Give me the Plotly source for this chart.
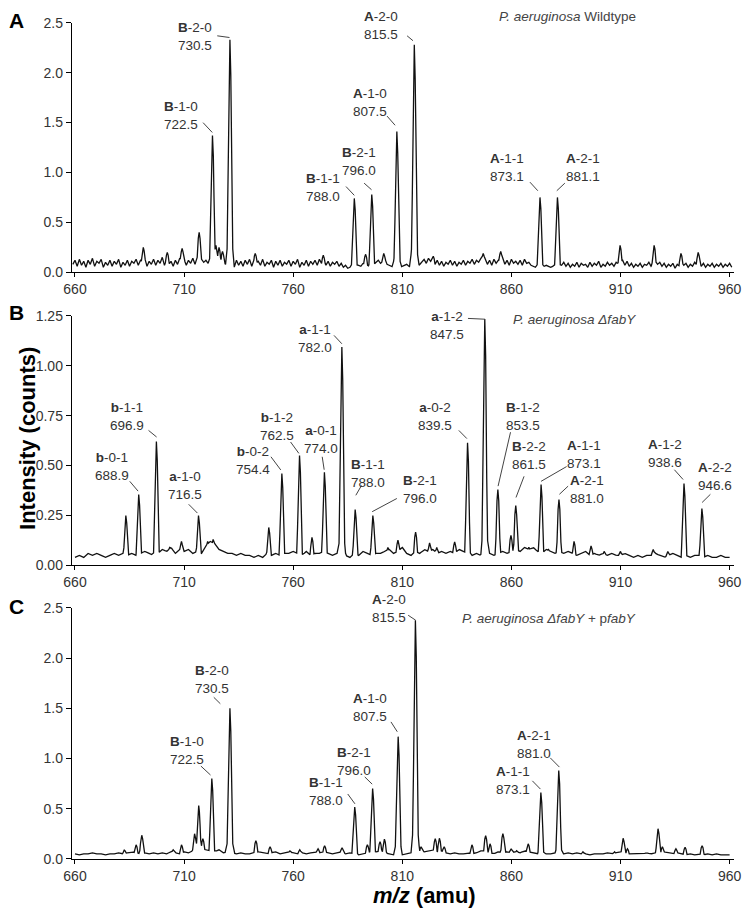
import numpy as np
import plotly.graph_objects as go

# ---------------- data ----------------
X_TICKS = [660, 710, 760, 810, 860, 910, 960]

# Panel A: P. aeruginosa wildtype
A_PEAK_MZ = [691.3, 702.3, 709.1, 716.9, 723.0, 724.6, 726.0, 727.6, 731.0, 742.6, 773.8,
             788.0, 793.2, 796.0, 801.5, 807.5, 815.5, 824.2, 847.1, 855.1, 873.1, 881.1,
             909.8, 925.4, 937.7, 945.6]
A_PEAK_INT = [0.25, 0.20, 0.24, 0.40, 1.37, 0.27, 0.25, 0.21, 2.33, 0.19, 0.17,
              0.74, 0.18, 0.78, 0.19, 1.41, 2.28, 0.16, 0.19, 0.21, 0.75, 0.75,
              0.27, 0.27, 0.19, 0.20]
A_BASE_MZ = list(range(659, 962))
A_BASE_INT = [
    0.08, 0.12, 0.06, 0.13, 0.07, 0.11, 0.05, 0.12, 0.08, 0.14,
    0.06, 0.11, 0.09, 0.13, 0.05, 0.10, 0.07, 0.12, 0.06, 0.11,
    0.08, 0.13, 0.05, 0.10, 0.07, 0.12, 0.06, 0.11, 0.09, 0.13,
    0.07, 0.12, 0.10, 0.14, 0.06, 0.11, 0.08, 0.13, 0.07, 0.12,
    0.09, 0.15, 0.07, 0.13, 0.08, 0.11, 0.06, 0.12, 0.08, 0.14,
    0.10, 0.13, 0.07, 0.12, 0.09, 0.14, 0.08, 0.15, 0.12, 0.13,
    0.10, 0.12, 0.09, 0.14, 0.10, 0.18, 0.14, 0.20, 0.12, 0.10,
    0.08, 0.09, 0.10, 0.07, 0.05, 0.12, 0.07, 0.11, 0.06, 0.12,
    0.08, 0.13, 0.06, 0.12, 0.09, 0.11, 0.07, 0.13, 0.06, 0.10,
    0.08, 0.12, 0.05, 0.11, 0.07, 0.12, 0.06, 0.10, 0.08, 0.12,
    0.06, 0.11, 0.08, 0.13, 0.05, 0.10, 0.07, 0.12, 0.06, 0.11,
    0.08, 0.12, 0.07, 0.13, 0.09, 0.12, 0.07, 0.11, 0.06, 0.10,
    0.08, 0.11, 0.06, 0.09, 0.05, 0.07, 0.04, 0.05, 0.06, 0.05,
    0.05, 0.07, 0.06, 0.09, 0.08, 0.07, 0.06, 0.07, 0.08, 0.10,
    0.12, 0.09, 0.11, 0.14, 0.08, 0.07, 0.06, 0.05, 0.06, 0.05,
    0.05, 0.06, 0.07, 0.08, 0.06, 0.05, 0.06, 0.07, 0.05, 0.08,
    0.10, 0.13, 0.09, 0.14, 0.11, 0.15, 0.08, 0.12, 0.07, 0.11,
    0.06, 0.10, 0.08, 0.12, 0.07, 0.11, 0.06, 0.10, 0.08, 0.12,
    0.07, 0.11, 0.09, 0.13, 0.08, 0.12, 0.10, 0.14, 0.11, 0.13,
    0.08, 0.12, 0.07, 0.13, 0.09, 0.12, 0.10, 0.14, 0.08, 0.12,
    0.07, 0.13, 0.09, 0.11, 0.08, 0.12, 0.07, 0.13, 0.09, 0.10,
    0.07, 0.06, 0.05, 0.06, 0.07, 0.05, 0.06, 0.07, 0.06, 0.05,
    0.06, 0.07, 0.06, 0.05, 0.07, 0.10, 0.06, 0.09, 0.05, 0.08,
    0.06, 0.10, 0.05, 0.09, 0.07, 0.08, 0.05, 0.10, 0.06, 0.09,
    0.07, 0.11, 0.05, 0.08, 0.06, 0.10, 0.07, 0.09, 0.06, 0.10,
    0.08, 0.10, 0.12, 0.07, 0.11, 0.06, 0.09, 0.05, 0.08, 0.06,
    0.09, 0.05, 0.08, 0.07, 0.10, 0.06, 0.09, 0.11, 0.08, 0.10,
    0.06, 0.09, 0.05, 0.08, 0.06, 0.09, 0.04, 0.08, 0.06, 0.10,
    0.07, 0.09, 0.05, 0.08, 0.06, 0.10, 0.07, 0.11, 0.06, 0.09,
    0.05, 0.08, 0.06, 0.09, 0.05, 0.08, 0.06, 0.09, 0.05, 0.08,
    0.06, 0.09, 0.05,
]

# Panel B: P. aeruginosa delta fabY
B_PEAK_MZ = [683.3, 689.2, 697.3, 703.4, 708.8, 716.6, 720.8, 723.3, 748.8, 754.8,
             762.9, 768.6, 774.3, 782.3, 788.4, 796.5, 803.4, 808.0, 816.1, 822.5,
             825.8, 834.0, 839.9, 847.8, 853.8, 859.8, 862.0, 868.0, 873.6, 877.0,
             881.8, 888.7, 896.5, 902.5, 910.0, 925.0, 931.7, 939.1, 947.3]
B_PEAK_INT = [0.25, 0.355, 0.62, 0.09, 0.12, 0.25, 0.12, 0.13, 0.19, 0.46,
              0.55, 0.14, 0.466, 1.094, 0.28, 0.25, 0.09, 0.126, 0.167, 0.113,
              0.09, 0.118, 0.614, 1.234, 0.38, 0.15, 0.30, 0.09, 0.405, 0.08,
              0.33, 0.12, 0.097, 0.07, 0.07, 0.08, 0.07, 0.41, 0.285]
B_BASE_MZ = list(range(660, 961, 2))
B_BASE_INT = [
    0.04, 0.05, 0.04, 0.06, 0.05, 0.06, 0.05, 0.04, 0.05, 0.06,
    0.05, 0.06, 0.05, 0.06, 0.05, 0.06, 0.07, 0.06, 0.05, 0.06,
    0.08, 0.07, 0.09, 0.06, 0.08, 0.07, 0.08, 0.06, 0.07, 0.06,
    0.10, 0.12, 0.11, 0.08, 0.07, 0.06, 0.06, 0.05, 0.06, 0.05,
    0.05, 0.04, 0.05, 0.04, 0.06, 0.05, 0.06, 0.05, 0.06, 0.06,
    0.07, 0.06, 0.05, 0.07, 0.05, 0.06, 0.06, 0.07, 0.06, 0.05,
    0.06, 0.07, 0.05, 0.04, 0.06, 0.05, 0.07, 0.06, 0.05, 0.06,
    0.06, 0.07, 0.08, 0.06, 0.07, 0.09, 0.06, 0.05, 0.07, 0.06,
    0.08, 0.07, 0.08, 0.06, 0.07, 0.06, 0.07, 0.06, 0.08, 0.07,
    0.06, 0.05, 0.06, 0.05, 0.07, 0.06, 0.05, 0.06, 0.07, 0.06,
    0.07, 0.08, 0.07, 0.09, 0.08, 0.09, 0.07, 0.06, 0.08, 0.07,
    0.06, 0.07, 0.06, 0.07, 0.06, 0.05, 0.06, 0.07, 0.05, 0.06,
    0.05, 0.06, 0.05, 0.06, 0.05, 0.05, 0.06, 0.05, 0.04, 0.05,
    0.04, 0.05, 0.05, 0.06, 0.05, 0.04, 0.05, 0.06, 0.05, 0.04,
    0.05, 0.04, 0.05, 0.05, 0.04, 0.05, 0.04, 0.04, 0.05, 0.04,
    0.04,
]

# Panel C: P. aeruginosa delta fabY + pfabY
C_PEAK_MZ = [682.6, 688.0, 690.6, 705.0, 708.8, 714.8, 716.7, 718.6, 722.7, 731.0,
             742.9, 749.4, 758.5, 763.0, 771.4, 774.4, 782.4, 788.2, 794.0, 796.4,
             799.8, 801.8, 808.1, 816.0, 818.6, 825.1, 827.0, 829.2, 841.9, 848.2,
             850.2, 856.1, 859.9, 862.4, 867.7, 873.5, 881.7, 892.8, 907.3, 911.2,
             913.2, 922.0, 927.2, 929.2, 935.4, 939.6, 947.4]
C_PEAK_INT = [0.09, 0.14, 0.235, 0.09, 0.14, 0.25, 0.53, 0.20, 0.80, 1.50,
              0.18, 0.12, 0.08, 0.09, 0.10, 0.13, 0.11, 0.516, 0.14, 0.70,
              0.17, 0.196, 1.217, 2.376, 0.12, 0.20, 0.205, 0.12, 0.14, 0.23,
              0.15, 0.25, 0.10, 0.08, 0.15, 0.66, 0.88, 0.07, 0.07, 0.205,
              0.10, 0.06, 0.30, 0.12, 0.10, 0.114, 0.13]
C_BASE_MZ = list(range(660, 961, 2))
C_BASE_INT = [
    0.05, 0.04, 0.05, 0.05, 0.06, 0.05, 0.05, 0.04, 0.05, 0.05,
    0.06, 0.05, 0.06, 0.07, 0.06, 0.05, 0.06, 0.05, 0.06, 0.05,
    0.06, 0.05, 0.07, 0.06, 0.05, 0.07, 0.06, 0.08, 0.09, 0.10,
    0.09, 0.08, 0.07, 0.09, 0.06, 0.07, 0.06, 0.05, 0.06, 0.05,
    0.05, 0.06, 0.07, 0.06, 0.05, 0.06, 0.07, 0.05, 0.06, 0.07,
    0.06, 0.05, 0.06, 0.05, 0.06, 0.07, 0.06, 0.07, 0.06, 0.05,
    0.06, 0.07, 0.05, 0.06, 0.05, 0.04, 0.05, 0.06, 0.08, 0.07,
    0.08, 0.06, 0.05, 0.04, 0.05, 0.04, 0.05, 0.06, 0.05, 0.08,
    0.07, 0.08, 0.09, 0.07, 0.08, 0.06, 0.05, 0.06, 0.05, 0.05,
    0.06, 0.05, 0.06, 0.08, 0.07, 0.06, 0.05, 0.07, 0.06, 0.07,
    0.06, 0.07, 0.06, 0.08, 0.07, 0.06, 0.05, 0.06, 0.05, 0.05,
    0.06, 0.05, 0.05, 0.06, 0.05, 0.06, 0.05, 0.05, 0.04, 0.05,
    0.05, 0.05, 0.06, 0.05, 0.06, 0.07, 0.06, 0.05, 0.05, 0.05,
    0.05, 0.06, 0.05, 0.06, 0.05, 0.07, 0.06, 0.05, 0.06, 0.05,
    0.04, 0.05, 0.04, 0.05, 0.04, 0.05, 0.04, 0.05, 0.04, 0.04,
    0.04,
]

# peak labels: (species letter, rest, m/z text)
A_LABEL_TEXT = [("B", "-2-0", "730.5"), ("B", "-1-0", "722.5"), ("B", "-1-1", "788.0"),
                ("B", "-2-1", "796.0"), ("A", "-1-0", "807.5"), ("A", "-2-0", "815.5"),
                ("A", "-1-1", "873.1"), ("A", "-2-1", "881.1")]
B_LABEL_TEXT = [("b", "-0-1", "688.9"), ("b", "-1-1", "696.9"), ("a", "-1-0", "716.5"),
                ("b", "-0-2", "754.4"), ("b", "-1-2", "762.5"), ("a", "-0-1", "774.0"),
                ("a", "-1-1", "782.0"), ("B", "-1-1", "788.0"), ("B", "-2-1", "796.0"),
                ("a", "-0-2", "839.5"), ("a", "-1-2", "847.5"), ("B", "-1-2", "853.5"),
                ("B", "-2-2", "861.5"), ("A", "-1-1", "873.1"), ("A", "-2-1", "881.0"),
                ("A", "-1-2", "938.6"), ("A", "-2-2", "946.6")]
C_LABEL_TEXT = [("B", "-2-0", "730.5"), ("B", "-1-0", "722.5"), ("B", "-1-1", "788.0"),
                ("B", "-2-1", "796.0"), ("A", "-1-0", "807.5"), ("A", "-2-0", "815.5"),
                ("A", "-1-1", "873.1"), ("A", "-2-1", "881.0")]

PANEL_TITLES = ["<i>P. aeruginosa</i> Wildtype",
                "<i>P. aeruginosa ΔfabY</i>",
                "<i>P. aeruginosa ΔfabY</i> + p<i>fabY</i>"]

# ---------------- layout (label placement in data units) ----------------
# (text x, text y, leader x0, y0, x1, y1)
A_LABEL_POS = [(714.9, 2.367, 725.2, 2.369, 730.8, 2.352),
               (708.4, 1.575, 718.7, 1.499, 722.9, 1.401),
               (773.8, 0.851, 784.2, 0.859, 788.0, 0.771),
               (790.3, 1.105, 792.5, 0.893, 795.9, 0.827),
               (795.0, 1.698, 803.0, 1.565, 806.7, 1.473),
               (800.2, 2.475, 812.2, 2.369, 814.9, 2.320),
               (858.2, 1.048, 868.5, 0.903, 872.1, 0.817),
               (892.8, 1.048, 884.5, 0.893, 880.8, 0.817)]
B_LABEL_POS = [(677.0, 0.495, 685.1, 0.421, 688.9, 0.372),
               (683.7, 0.745, 693.7, 0.676, 697.4, 0.643),
               (710.2, 0.400, 712.1, 0.306, 716.1, 0.262),
               (741.6, 0.523, 749.8, 0.544, 754.3, 0.478),
               (752.4, 0.695, 758.8, 0.618, 762.6, 0.561),
               (772.7, 0.631, 773.3, 0.544, 774.2, 0.479),
               (769.9, 1.138, 778.7, 1.152, 782.3, 1.110),
               (794.1, 0.462, 791.3, 0.400, 788.7, 0.351),
               (817.9, 0.380, 807.5, 0.335, 796.2, 0.269),
               (825.2, 0.745, 835.9, 0.676, 839.6, 0.635),
               (830.3, 1.201, 840.1, 1.237, 847.9, 1.233),
               (865.1, 0.745, 859.6, 0.667, 853.9, 0.397),
               (868.2, 0.548, 865.8, 0.446, 862.1, 0.340),
               (893.5, 0.553, 885.3, 0.495, 873.6, 0.421),
               (894.6, 0.380, 886.0, 0.397, 882.0, 0.356),
               (930.2, 0.561, 934.7, 0.479, 938.7, 0.430),
               (953.2, 0.446, 951.2, 0.356, 947.4, 0.315)]
C_LABEL_POS = [(722.7, 1.783, 723.6, 1.609, 726.6, 1.545),
               (711.5, 1.077, 717.7, 0.924, 722.1, 0.835),
               (774.9, 0.671, 785.0, 0.646, 788.3, 0.548),
               (787.8, 0.965, 792.8, 0.816, 796.2, 0.744),
               (795.0, 1.503, 804.8, 1.364, 807.7, 1.266),
               (803.7, 2.498, 812.7, 2.426, 816.1, 2.377),
               (860.6, 0.784, 869.6, 0.777, 873.3, 0.695),
               (870.2, 1.136, 877.8, 1.006, 882.0, 0.914)]

FIG_W, FIG_H = 750, 915
TITLE_POS = [(0.8573, 0.9909), (0.8573, 0.6539), (0.8573, 0.3205)]   # paper units
LETTER_POS = [(0.0113, 0.9863), (0.0113, 0.6612), (0.0113, 0.3344)]
Y_DOMAINS = [(0.70601, 0.98361), (0.38000, 0.65760), (0.05355, 0.33279)]
X_DOMAIN = (0.0867, 0.988)
X_RANGE = [658.5, 962.1]

# peak profile template (style: offset in amu, fraction of height)
SHAPE_DX = [-2.2, -1.3, -0.9, -0.4, 0.0, 0.4, 0.9, 1.3, 2.2]
SHAPE_FR = [0.0, 0.1, 0.35, 0.85, 1.0, 0.85, 0.35, 0.1, 0.0]


def build_spectrum(base_mz, base_int, peak_mz, peak_int):
    xs = set(float(v) for v in base_mz)
    for m in peak_mz:
        for d in SHAPE_DX:
            xs.add(round(m + d, 3))
    x = np.array(sorted(xs))
    y = np.interp(x, base_mz, base_int)
    for m, h in zip(peak_mz, peak_int):
        prof = h * np.interp(x - m, SHAPE_DX, SHAPE_FR, left=0.0, right=0.0)
        y = np.maximum(y, prof)
    return x, y


FONT = "Liberation Sans, Arial, sans-serif"
TXT = "#333333"

panels = [
    (A_BASE_MZ, A_BASE_INT, A_PEAK_MZ, A_PEAK_INT, A_LABEL_TEXT, A_LABEL_POS, 2.5, 0.5, ".1f"),
    (B_BASE_MZ, B_BASE_INT, B_PEAK_MZ, B_PEAK_INT, B_LABEL_TEXT, B_LABEL_POS, 1.25, 0.25, ".2f"),
    (C_BASE_MZ, C_BASE_INT, C_PEAK_MZ, C_PEAK_INT, C_LABEL_TEXT, C_LABEL_POS, 2.5, 0.5, ".1f"),
]

fig = go.Figure()
annotations = []
shapes = []

for i, (bmz, bint, pmz, pint, ltxt, lpos, ymax, dy, fmt) in enumerate(panels):
    n = "" if i == 0 else str(i + 1)
    x, y = build_spectrum(bmz, bint, pmz, pint)
    fig.add_trace(go.Scatter(x=x, y=y, mode="lines", xaxis="x" + n, yaxis="y" + n,
                             line=dict(color="#111111", width=1.3), showlegend=False,
                             hoverinfo="skip"))
    fig.update_layout(**{
        "xaxis" + n: dict(domain=list(X_DOMAIN), range=X_RANGE, anchor="y" + n,
                          tickvals=X_TICKS, ticks="outside", ticklen=4, tickcolor="black",
                          showline=True, linecolor="black", linewidth=1, showgrid=False,
                          zeroline=False, ticklabeloverflow="allow",
                          tickfont=dict(family=FONT, size=14, color=TXT)),
        "yaxis" + n: dict(domain=list(Y_DOMAINS[i]), range=[0, ymax], anchor="x" + n,
                          dtick=dy, tick0=0, tickformat=fmt, ticks="outside", ticklen=5,
                          tickcolor="black", showline=True, linecolor="black", linewidth=1,
                          showgrid=False, zeroline=False,
                          tickfont=dict(family=FONT, size=14, color=TXT)),
    })
    for (sp, rest, val), (tx, ty, x0, y0, x1, y1) in zip(ltxt, lpos):
        annotations.append(dict(
            x=tx, y=ty, xref="x" + n, yref="y" + n, showarrow=False,
            text="<b>%s</b>%s<br>%s" % (sp, rest, val), align="center",
            xanchor="center", yanchor="middle",
            font=dict(family=FONT, size=13.5, color=TXT)))
        shapes.append(dict(type="line", xref="x" + n, yref="y" + n, x0=x0, y0=y0, x1=x1, y1=y1,
                           line=dict(color="#444444", width=1)))
    tx, ty = TITLE_POS[i]
    annotations.append(dict(x=tx, y=ty, xref="paper", yref="paper", showarrow=False,
                            text=PANEL_TITLES[i], xanchor="right", yanchor="middle",
                            font=dict(family=FONT, size=13.5, color="#444444")))

# panel letters and axis titles
for letter, (lx, ly) in zip(["A", "B", "C"], LETTER_POS):
    annotations.append(dict(x=lx, y=ly, xref="paper", yref="paper", showarrow=False,
                            text="<b>%s</b>" % letter, xanchor="center", yanchor="middle",
                            font=dict(family=FONT, size=21, color="black")))
annotations.append(dict(x=0.0267, y=0.5213, xref="paper", yref="paper", showarrow=False,
                        text="<b>Intensity (counts)</b>", textangle=-90,
                        xanchor="center", yanchor="middle",
                        font=dict(family=FONT, size=22, color="black")))
annotations.append(dict(x=0.567, y=0.0128, xref="paper", yref="paper", showarrow=False,
                        text="<b><i>m/z</i> (amu)</b>", xanchor="center", yanchor="middle",
                        borderpad=0, font=dict(family=FONT, size=22, color="black")))

fig.update_layout(width=FIG_W, height=FIG_H, margin=dict(l=0, r=0, t=0, b=0, pad=0),
                  paper_bgcolor="white", plot_bgcolor="white",
                  annotations=annotations, shapes=shapes, showlegend=False)

# the page body margin is removed so the 750x915 figure fills the window exactly
fig.write_html("out.html", config={"displayModeBar": False},
               post_script="document.body.style.margin='0px';"
                           "document.body.style.overflow='hidden';")
